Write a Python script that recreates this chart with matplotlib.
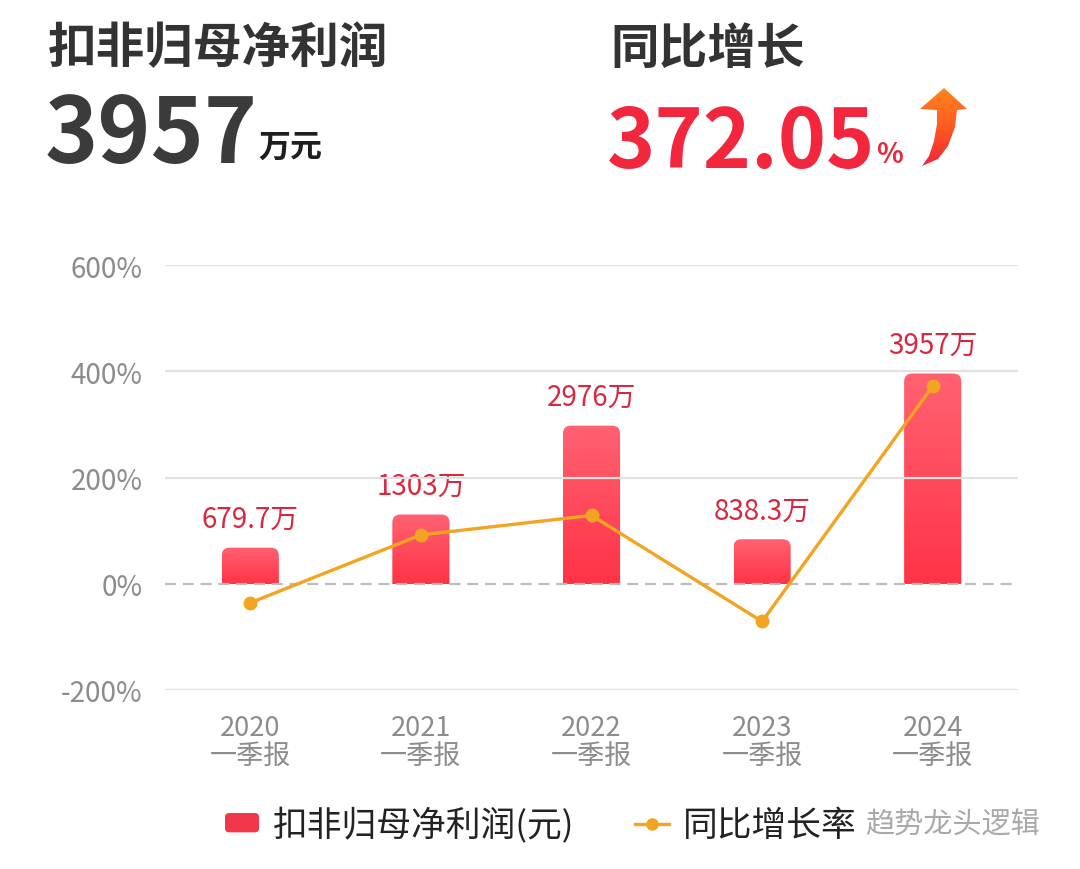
import numpy as np
import matplotlib
matplotlib.use('Agg')
import matplotlib.pyplot as plt
from matplotlib.patches import FancyBboxPatch, Patch, PathPatch
from matplotlib.lines import Line2D
from matplotlib.path import Path
from matplotlib.colors import LinearSegmentedColormap
from matplotlib.legend_handler import HandlerPatch

plt.rcParams['font.family'] = ['Noto Sans CJK SC', 'DejaVu Sans']

# data
years = ['2020', '2021', '2022', '2023', '2024']
periods = ['一季报'] * 5
profit = [679.7, 1303, 2976, 838.3, 3957]          # 万元
profit_labels = ['679.7万', '1303万', '2976万', '838.3万', '3957万']
growth = [-35.8, 92.0, 128.6, -71.0, 372.05]        # %
y_ticks = [-200, 0, 200, 400, 600]

RED_TXT = '#d8283f'
ORANGE = '#f2a422'
GRAY = '#8c8c8c'

fig = plt.figure(figsize=(10.8, 8.7), dpi=100)
ax = fig.add_axes([165/1080, 1 - 691/870, 853/1080, 425/870])
ax2 = ax.twinx()

x = np.arange(len(years))
ax.set_xlim(-0.5, len(years) - 0.5)
ax.set_ylim(-200, 600)
ax2.set_xlim(-0.5, len(years) - 0.5)
ax2.set_ylim(-2000, 6000)

# grid
for t in y_ticks:
    if t == 0:
        ax.axhline(t, color='#bdbdbd', lw=1.6, ls=(0, (5, 3)), zorder=1)
    else:
        ax.axhline(t, color='#e2e2e2', lw=1.6, zorder=1)

ax.set_yticks(y_ticks)
ax.set_yticklabels([f'{t}%' for t in y_ticks], fontsize=20, color=GRAY)
ax.set_xticks(x)
ax.set_xticklabels([f'{a}\n{b}' for a, b in zip(years, periods)],
                   fontsize=19.5, color=GRAY, linespacing=1.05)
ax.tick_params(axis='both', length=0)
ax.tick_params(axis='y', pad=16)
ax.tick_params(axis='x', pad=17)
ax2.set_yticks([])
for a in (ax, ax2):
    for s in a.spines.values():
        s.set_visible(False)
ax.set_zorder(2)
ax.patch.set_visible(False)
ax2.set_zorder(1)

# gradient bars with rounded top
bar_w = 0.335
bars = ax2.bar(x, profit, width=bar_w, color='none', edgecolor='none')
cmap = LinearSegmentedColormap.from_list('bar', ['#ff3346', '#ff6272'])
grad = np.linspace(0, 1, 256).reshape(-1, 1)
# pixels per unit
px_x = 853 / 5.0
px_y = 425 / 8000.0
aspect = px_x / px_y
rad = 8 / px_x
for b, lab in zip(bars, profit_labels):
    x0, w, h = b.get_x(), b.get_width(), b.get_height()
    ext = rad * aspect
    clip = FancyBboxPatch((x0, -ext), w, h + ext,
                          boxstyle=f'round,pad=0,rounding_size={rad}',
                          mutation_aspect=aspect,
                          transform=ax2.transData, facecolor='none', edgecolor='none')
    ax2.add_patch(clip)
    im = ax2.imshow(grad, cmap=cmap, aspect='auto', origin='lower',
                    extent=[x0, x0 + w, 0, h], zorder=2)
    im.set_clip_path(clip)
    ax2.annotate(lab, (b.get_x() + w / 2, h), xytext=(0, 10), textcoords='offset points',
                 ha='center', va='bottom', fontsize=20, color=RED_TXT)
ax2.set_xlim(-0.5, len(years) - 0.5)
ax2.set_ylim(-2000, 6000)

# growth line
ax.plot(x, growth, color=ORANGE, lw=2.4, marker='o', ms=9, zorder=5)

# header texts
fig.text(48/1080, 1 - 49/870, '扣非归母净利润', fontsize=35, fontweight='bold',
         color='#333333', va='center', ha='left')
fig.text(610/1080, 1 - 49/870, '同比增长', fontsize=35, fontweight='bold',
         color='#333333', va='center', ha='left')
fig.text(45/1080, 1 - 163/870, '3957', fontsize=65, fontweight='bold',
         color='#3b3b3b', va='baseline', ha='left')
fig.text(258/1080, 1 - 157/870, '万元', fontsize=23, fontweight='bold',
         color='#1e1e1e', va='baseline', ha='left')
fig.text(607/1080, 1 - 168/870, '372.05', fontsize=59, fontweight='bold',
         color='#f2263c', va='baseline', ha='left')
fig.text(876/1080, 1 - 163/870, '%', fontsize=20, fontweight='bold',
         color='#e8263c', va='baseline', ha='left')

# curved arrow (decoration)
pts = [(922, 167), (929, 157), (934, 142), (937, 125), (937, 111), (920, 110),
       (944, 89), (967, 110), (957, 111), (955, 128), (948, 147), (938, 160), (922, 167)]
verts = [(px / 1080, 1 - py / 870) for px, py in pts]
arrow_path = Path(verts, [Path.MOVETO] + [Path.LINETO] * (len(verts) - 2) + [Path.CLOSEPOLY])
arrow = PathPatch(arrow_path, transform=fig.transFigure, facecolor='none', edgecolor='none')
fig.add_artist(arrow)
acmap = LinearSegmentedColormap.from_list('arr', ['#f0203a', '#ff5a22', '#ff8a1a'])
aax = fig.add_axes([0, 0, 1, 1], zorder=-1)
aax.set_axis_off()
aim = aax.imshow(np.linspace(0, 1, 256).reshape(-1, 1), cmap=acmap, origin='lower',
                 aspect='auto', extent=[910/1080, 975/1080, 1 - 170/870, 1 - 85/870],
                 transform=fig.transFigure)
aim.set_clip_path(arrow)
aax.set_xlim(0, 1)
aax.set_ylim(0, 1)


def rounded_patch(legend, orig_handle, xdescent, ydescent, width, height, fontsize):
    return FancyBboxPatch((-xdescent, -ydescent), width, height,
                          boxstyle='round,pad=0,rounding_size=3')


# legend
handles = [Patch(facecolor='#f2374b', edgecolor='none'),
           Line2D([], [], color=ORANGE, lw=2.4, marker='o', ms=8)]
fig.legend(handles, ['扣非归母净利润(元)', '同比增长率'], loc='center left',
           bbox_to_anchor=(225/1080, 1 - 826/870), ncol=2, frameon=False,
           borderpad=0, borderaxespad=0,
           fontsize=25, handlelength=0.98, handleheight=0.48, handletextpad=0.4,
           columnspacing=1.75, labelcolor='#222222',
           handler_map={Patch: HandlerPatch(patch_func=rounded_patch)})

fig.text(865/1080, 1 - 826/870, '趋势龙头逻辑', fontsize=21, color='#a9a9a9',
         va='center', ha='left')

fig.savefig('out.png', dpi=100, facecolor='white')
